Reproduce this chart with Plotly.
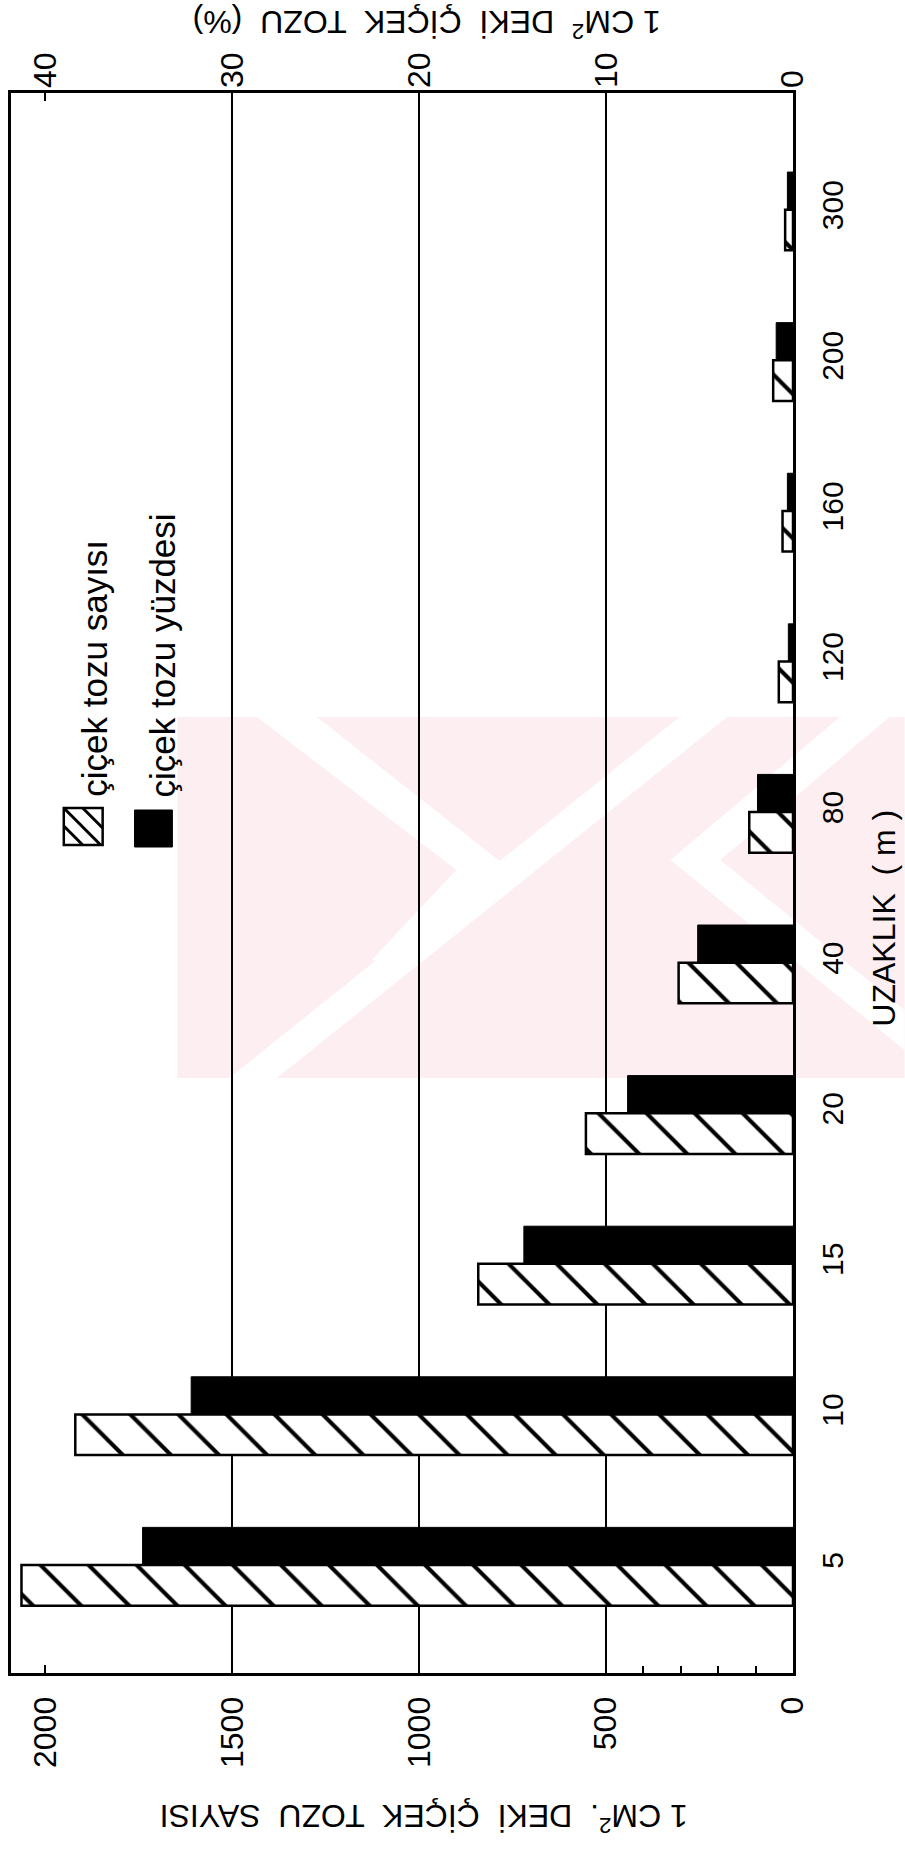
import plotly.graph_objects as go

# ---------------- data ----------------
distances = ["5", "10", "15", "20", "40", "80", "120", "160", "200", "300"]
pollen_count = [2064, 1920, 842, 554, 306, 117, 38, 28, 53, 21]          # 1 cm2 deki çiçek tozu sayısı
pollen_percent = [34.8, 32.2, 14.4, 8.85, 5.1, 1.9, 0.25, 0.3, 0.9, 0.3]  # 1 cm2 deki çiçek tozu (%)
count_ticks = [0, 500, 1000, 1500, 2000]
percent_ticks = [0, 10, 20, 30, 40]
minor_count_ticks = [100, 200, 300, 400]
legend_names = ["çiçek tozu sayısı", "çiçek tozu yüzdesi"]

# ---------------- layout geometry ----------------
W, H = 905, 1849
L, R, T, B = 8, 112, 93, 176
PW, PH = W - L - R, H - T - B
COUNT_MAX = 2092
PCT_MAX = COUNT_MAX / 50.0

def px(x):
    return (x - L) / PW

def py(y):
    return 1 - (y - T) / PH

FONT = "Liberation Sans"
NARROW = "Liberation Sans Narrow, Liberation Sans"

fig = go.Figure()

fig.add_trace(go.Bar(
    y=distances, x=pollen_count, orientation="h", name=legend_names[0],
    xaxis="x", yaxis="y", width=0.27, offset=-0.27,
    marker=dict(color="white", line=dict(color="black", width=2.5),
                pattern=dict(shape="\\", size=34, solidity=0.12,
                             fgcolor="black", bgcolor="white", fillmode="replace")),
    showlegend=False,
))
fig.add_trace(go.Bar(
    y=distances, x=pollen_percent, orientation="h", name=legend_names[1],
    xaxis="x2", yaxis="y", width=0.25, offset=0.0,
    marker=dict(color="black", line=dict(color="black", width=1)),
    showlegend=False,
))
# invisible trace to carry minor bottom ticks axis
fig.add_trace(go.Scatter(x=[None], y=[None], xaxis="x3", yaxis="y", showlegend=False))

# ---------------- watermark (faint) ----------------
pink = "#fdeef1"
def band(pts):
    d = "M" + " L".join(f"{px(a)},{py(b)}" for a, b in pts) + " Z"
    return dict(type="path", xref="paper", yref="paper", layer="below",
                fillcolor="white", line=dict(width=0), path=d)

shapes = [
    dict(type="rect", xref="paper", yref="paper", x0=px(175), x1=px(905), y0=py(1078), y1=py(717),
         fillcolor=pink, line=dict(width=0), layer="below"),
    band([(255, 717), (315, 717), (510, 870), (455, 870)]),
    band([(455, 870), (510, 870), (420, 960), (370, 960)]),
    band([(679, 717), (727, 717), (275, 1078), (227, 1078)]),
    band([(840, 717), (890, 717), (720, 860), (670, 860)]),
    band([(670, 860), (720, 860), (905, 1010), (905, 1050)]),
]

# ---------------- legend (drawn, rotated like the page) ----------------
shapes.append(dict(type="rect", xref="paper", yref="paper", x0=px(61), x1=px(100), y0=py(845), y1=py(808),
                   line=dict(color="black", width=2.5), fillcolor="white"))
for (xa, ya, xb, yb) in [(61, 808, 98, 845), (61, 826, 80, 845), (80, 808, 100, 828)]:
    shapes.append(dict(type="line", xref="paper", yref="paper", x0=px(xa), y0=py(ya), x1=px(xb), y1=py(yb),
                       line=dict(color="black", width=3)))
shapes.append(dict(type="rect", xref="paper", yref="paper", x0=px(132), x1=px(170), y0=py(847), y1=py(810),
                   line=dict(color="black", width=1), fillcolor="black"))

annotations = [
    dict(text=legend_names[0], x=px(92), y=py(668), xref="paper", yref="paper", textangle=-90,
         showarrow=False, font=dict(family=FONT, size=35, color="black"), xanchor="center", yanchor="middle"),
    dict(text=legend_names[1], x=px(160), y=py(655), xref="paper", yref="paper", textangle=-90,
         showarrow=False, font=dict(family=FONT, size=35, color="black"), xanchor="center", yanchor="middle"),
    # axis titles (upside down, as on the page)
    dict(text="1 CM<sup>2</sup>  DEKİ  ÇİÇEK  TOZU  (%)", x=px(425), y=py(24), xref="paper", yref="paper",
         textangle=180, showarrow=False, font=dict(family=NARROW, size=32, color="black"),
         xanchor="center", yanchor="middle"),
    dict(text="1 CM<sup>2</sup>.  DEKİ  ÇİÇEK  TOZU  SAYISI", x=px(422), y=py(1818), xref="paper", yref="paper",
         textangle=180, showarrow=False, font=dict(family=NARROW, size=32, color="black"),
         xanchor="center", yanchor="middle"),
    dict(text="UZAKLIK  ( m )", x=px(884), y=py(918), xref="paper", yref="paper",
         textangle=-90, showarrow=False, font=dict(family=FONT, size=32, color="black"),
         xanchor="center", yanchor="middle"),
]

fig.update_layout(
    width=W, height=H,
    margin=dict(l=L, r=R, t=T, b=B, pad=0),
    paper_bgcolor="white", plot_bgcolor="rgba(0,0,0,0)",
    barmode="overlay",
    showlegend=False,
    shapes=shapes,
    annotations=annotations,
    xaxis=dict(
        range=[COUNT_MAX, 0], side="bottom",
        tickvals=count_ticks, ticktext=[str(v) for v in count_ticks],
        tickangle=-90, tickfont=dict(family=FONT, size=32, color="black"),
        ticks="inside", ticklen=8, tickwidth=2, tickcolor="black",
        ticklabelstandoff=8,
        showgrid=False, zeroline=False,
        showline=True, linecolor="black", linewidth=3, mirror=True,
        minor=dict(tickvals=[500, 1000, 1500], showgrid=True, gridcolor="black", gridwidth=2, ticks=""),
    ),
    xaxis2=dict(
        range=[PCT_MAX, 0], overlaying="x", side="top",
        tickvals=percent_ticks, ticktext=[str(v) for v in percent_ticks],
        tickangle=-90, tickfont=dict(family=FONT, size=32, color="black"),
        ticks="inside", ticklen=8, tickwidth=2, tickcolor="black",
        ticklabelstandoff=4,
        showgrid=False, zeroline=False, showline=False,
    ),
    xaxis3=dict(
        range=[COUNT_MAX, 0], overlaying="x", side="bottom",
        tickvals=minor_count_ticks, ticks="inside", ticklen=7, tickwidth=2, tickcolor="black",
        showticklabels=False, showgrid=False, zeroline=False, showline=False,
    ),
    yaxis=dict(
        type="category", categoryorder="array", categoryarray=distances,
        range=[-0.717, 9.775], side="right",
        tickangle=-90, tickfont=dict(family=NARROW, size=30, color="black"),
        ticks="", ticklabelstandoff=11,
        showgrid=False, zeroline=False,
        showline=True, linecolor="black", linewidth=3, mirror=True,
    ),
)

fig.write_html("out.html")
